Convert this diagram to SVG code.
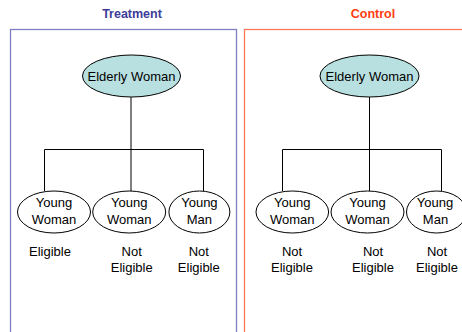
<svg xmlns="http://www.w3.org/2000/svg" width="462" height="332" viewBox="0 0 462 332">
<style>
.t{font-family:"Liberation Sans",Arial,sans-serif;font-size:13px;fill:#000;text-anchor:middle}
.h{font-family:"Liberation Sans",Arial,sans-serif;font-size:12.5px;font-weight:bold;text-anchor:middle}
.e{fill:#fff;stroke:#000;stroke-width:1}
.ee{fill:#b9e0e0;stroke:#000;stroke-width:1}
.c{fill:none;stroke:#000;stroke-width:1}
</style>
<rect width="462" height="332" fill="#fff"/>
<g id="treatment-panel">
<rect x="10.5" y="29.5" width="226" height="320" fill="none" stroke="#7f7fc4" stroke-width="1.3"/>
<text class="h" x="132" y="18" fill="#3d3d99">Treatment</text>
</g>
<g id="control-panel">
<rect x="244.5" y="29.5" width="240" height="320" fill="none" stroke="#ff7a5a" stroke-width="1.3"/>
<text class="h" x="373" y="18" fill="#ff3d12">Control</text>
</g>
<g id="connectors">
<path class="c" d="M131 97V149.5M44.5 191V149.5H203.5V191M131 149.5V191"/>
<path class="c" d="M369.5 97V149.5M282.5 191V149.5H441.5V191M369.5 149.5V191"/>
</g>
<g id="t-elder"><ellipse class="ee" cx="131.5" cy="76" rx="49" ry="21"/><text class="t" x="131.5" y="80.5">Elderly Woman</text></g>
<g id="t-yw1"><ellipse class="e" cx="54" cy="212" rx="36.5" ry="21"/><text class="t" x="54" y="207">Young</text><text class="t" x="54" y="224">Woman</text></g>
<g id="t-yw2"><ellipse class="e" cx="129.2" cy="212" rx="36.5" ry="21"/><text class="t" x="129.2" y="207">Young</text><text class="t" x="129.2" y="224">Woman</text></g>
<g id="t-ym"><ellipse class="e" cx="199.4" cy="212" rx="30.5" ry="21"/><text class="t" x="199.4" y="207">Young</text><text class="t" x="199.4" y="224">Man</text></g>
<g id="t-labels">
<text class="t" x="50" y="255.5">Eligible</text>
<text class="t" x="131.7" y="255.5">Not</text><text class="t" x="131.7" y="271.5">Eligible</text>
<text class="t" x="198.8" y="255.5">Not</text><text class="t" x="198.8" y="271.5">Eligible</text>
</g>
<g id="c-elder"><ellipse class="ee" cx="369.5" cy="76" rx="49.5" ry="21"/><text class="t" x="369.5" y="80.5">Elderly Woman</text></g>
<g id="c-yw1"><ellipse class="e" cx="292.3" cy="212" rx="36.3" ry="21"/><text class="t" x="292.3" y="207">Young</text><text class="t" x="292.3" y="224">Woman</text></g>
<g id="c-yw2"><ellipse class="e" cx="367.5" cy="212" rx="36.5" ry="21"/><text class="t" x="367.5" y="207">Young</text><text class="t" x="367.5" y="224">Woman</text></g>
<g id="c-ym"><ellipse class="e" cx="436.5" cy="212" rx="30" ry="21"/><text class="t" x="435" y="207">Young</text><text class="t" x="435.5" y="224">Man</text></g>
<g id="c-labels">
<text class="t" x="292" y="255.5">Not</text><text class="t" x="292" y="271.5">Eligible</text>
<text class="t" x="373" y="255.5">Not</text><text class="t" x="373" y="271.5">Eligible</text>
<text class="t" x="437" y="255.5">Not</text><text class="t" x="437" y="271.5">Eligible</text>
</g>
</svg>
